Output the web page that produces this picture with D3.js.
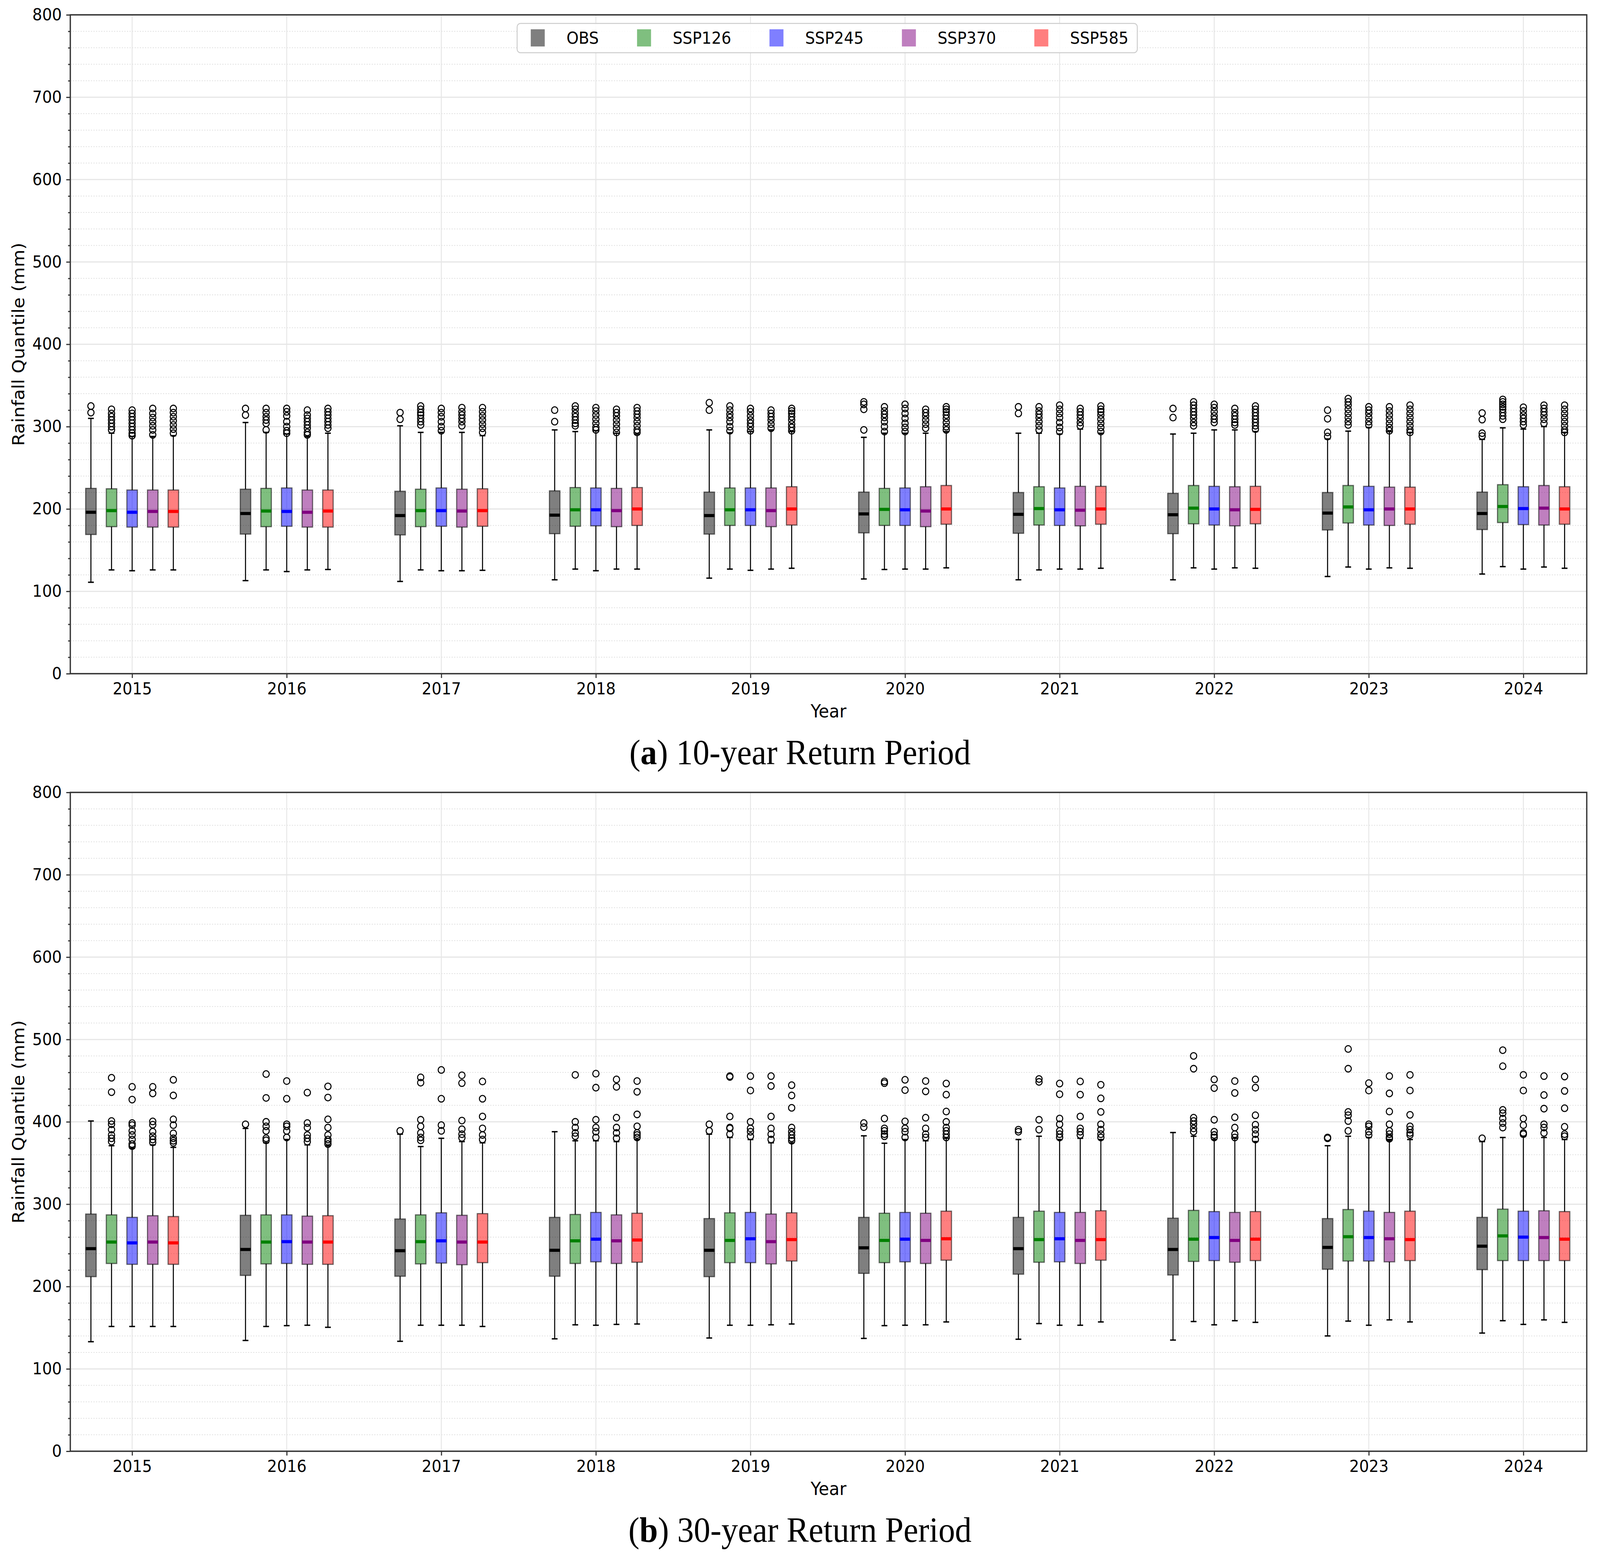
<!DOCTYPE html>
<html>
<head>
<meta charset="utf-8">
<script src="https://cdn.jsdelivr.net/npm/d3@7"></script>
<style>
  html, body { margin: 0; padding: 0; background: #fff; overflow: hidden; }
  svg { display: block; }
</style>
</head>
<body>
<div id="chart"></div>
<script>
const years = [2015, 2016, 2017, 2018, 2019, 2020, 2021, 2022, 2023, 2024];
const seriesNames = ['OBS', 'SSP126', 'SSP245', 'SSP370', 'SSP585'];
const seriesColors = ['black', 'green', 'blue', 'purple', 'red'];
const yTicks = [0, 100, 200, 300, 400, 500, 600, 700, 800];

// 10-year return period, per year: [low whisker, Q1, median, Q3, high whisker]
const rp10OBS = [[111,169,196,225,310],[113,169.5,194.5,224,305],[112,168.5,192,221.5,301],[114,170,192.5,222,296],[116,169.5,192,220.5,296],[115,171,194,220.5,287],[114,170.5,193.5,220,292],[114,170,193,219,291],[118,174.5,195,220,285],[121,175,194.5,220.5,284.5]];
const rp10SSP126 = [[126,178.5,198,224.5,292],[126,178.5,197.5,225,293],[126,178.5,198,224,293],[127,179,199,226,294],[127,180,199,225.5,292.5],[126.5,180,199.5,225,292],[126,180.5,200.5,227,292],[128.5,182,201,228.5,292],[129.5,183,202.5,228.5,294.5],[130,183.5,203,229.5,298.5]];
const rp10SSP245 = [[125,178,196,223,288],[124,179,197,225.5,291],[125,179,198,225.5,293],[125,179.5,199,225.5,295],[125.5,180,199,225.5,294],[127,180,199,225.5,292],[127,180,199,225.5,291],[127,180.5,200,227.5,296],[127,180.5,199,227.5,299],[127,181,200.5,227,297]];
const rp10SSP370 = [[126,178,197,223,288],[126,178,196,223,288],[125,178,197.5,224,293],[127,178.5,198,225,292],[127,178.5,198,225.5,296],[127,178.5,197.5,227,292],[127,179.5,198.5,227.5,297],[128.5,179.5,199,227,296],[128.5,180,200,226.5,294],[129.5,180.5,201,228.5,300]];
const rp10SSP585 = [[126,178,197,223,289],[126.5,178,197.5,223,292],[125.5,179,198,224.5,289],[127,180,200,226,291],[128,180.5,200,227,294],[128.5,181.5,200,228.5,294],[128,181.5,200,227.5,292],[128,182,199.5,227.5,294],[128,181.5,200,226.5,293],[128,181.5,200,227,293]];

// 10-year return period outliers
const rp10OBSOut = [[325,317],[322,314],[317,309],[320,306],[329,320],[330,327,321,296],[324,316],[322,311],[320,309.5,293,288],[316.5,308.5,292,288.5]];
const rp10SSP126Out = [[321,316,312,308,304,300,296],[322,317,312,308,304,296],[325,321,317,314,310,306,302],[325,321,316,312,308,304,301],[325,320,315,311,306,300,295],[324,319,315,311,306,300,294],[324,319,315,311,306,301,296],[330,326,322,318,314,310,305,301],[334,330,326,321,316,311,306,302],[333,330,327,324,321,317,313,309]];
const rp10SSP245Out = [[320,316,312,308,304,300,296,292,289],[322,318,313,306,300,295,292],[322,317,312,306,300,295],[323,319,314,309,304,299,296],[322,318,313,308,304,300,295],[327,322,316,310,304,299,294],[326,321,316,311,305,299,294],[327,323,318,313,309,305],[324,320,316,311,306,302],[323.5,319,314,310,306,302]];
const rp10SSP370Out = [[322,316,311,306,301,296,290],[320,314,310,306,302,298,293,290],[323,318,314,310,306,301],[321,317,313,308,303,298,293],[320,316,312,308,303,298],[321,317,313,308,303,298],[322,318,314,310,305,301],[322,317,313,309,305,302],[324,319,314,309,304,299,295],[326,322,318,314,309,304]];
const rp10SSP585Out = [[322,317,312,307,302,297,292],[322,318,314,310,306,302,298],[323,318,313,308,303,298,293],[323,319,315,311,306,301,296,293],[322,319,316,312,308,303,299,295],[324,321,318,314,310,305,300,296],[325,321,318,314,309,304,299,294],[325,321,317,313,309,305,301,297],[326,321,316,311,306,301,296,293],[326,321,316,311,306,301,296,293]];

// 30-year return period, per year: [low whisker, Q1, median, Q3, high whisker]
const rp30OBS = [[133,212,246,288,401],[134.5,213.5,245,286.5,392],[133.5,212.5,243.5,282,385],[136.5,212.5,244,284,388],[137.5,212,244,282.5,385],[137,216,247,284,383],[136,215,246,284,378.5],[135,214,245,283,387],[140,221,247.5,282.5,371],[143.5,220.5,249,284,376]];
const rp30SSP126 = [[151.5,228,254,287,371],[151.5,227.5,254,287,374.5],[153,227.5,254.5,287,370],[153.5,228,255.5,287.5,377],[153,229,256,289.5,381],[152.5,229,256,289,374],[155,229.5,257,291.5,382.5],[157.5,230.5,257.5,292.5,382.5],[158,231,260.5,293.5,382.5],[158.5,231.5,261.5,294,381]];
const rp30SSP245 = [[151.5,227,253,284,368],[152.5,228,254.5,287,378.5],[153,228.5,255.5,289.5,380],[153,230,257.5,290,377],[153,229,258,290,378.5],[153,230,257.5,290,378.5],[153,230,258,290,378.5],[153.5,231.5,259.5,291,378.5],[153,231,259.5,291.5,381],[154,231.5,260,291.5,382.5]];
const rp30SSP370 = [[151.5,227,254,286,372],[153,227,254,285.5,372],[153,226.5,254,286.5,376],[154,228,255.5,287,376],[153.5,227.5,254.5,288,374.5],[153.5,228,256,289,377],[153,228,256,290,380],[158.5,229.5,256,290,380],[159.5,230,258,290,378.5],[159.5,231.5,259.5,292,381]];
const rp30SSP585 = [[151.5,227,253,285,369],[150.5,227,254,286,371],[151.5,229,254,288.5,374.5],[154.5,229.5,256.5,289,378.5],[154.5,231,257,289.5,374.5],[157,232,258,291.5,380],[157,232,257,292,378.5],[156.5,231.5,257.5,291,376],[157,231.5,257,291.5,378.5],[156.5,231.5,257.5,291,378.5]];

// 30-year return period outliers
const rp30OBSOut = [[],[397],[389],[],[397,389],[398.5,393.5],[390.5,388],[],[381,380],[380]];
const rp30SSP126Out = [[453.5,436,401,397,390.5,384,380,376],[458,429,400,394.5,389,380,377.5],[454,447.5,402.5,394.5,386.5,381,377.5],[457,400,393,386.5,382.5],[455.5,454.5,406.5,393,392,385],[449,447,404,392,389,385,382.5],[452,448.5,402.5,390.5],[480,464.5,405,401,397,392,388],[488.5,464.5,412,408,401,389],[487,467.5,414.5,410.5,404,398.5,393]];
const rp30SSP245Out = [[442.5,427,398.5,396,389,384,378.5,373,370.5],[449.5,428,397,394.5,389,381],[463,428,396,389],[458.5,441.5,402.5,393,388,381],[455.5,438,400,392,388,382.5],[451,438.5,400.5,392,388,381],[446.5,433.5,404,397,389,385,381],[451.5,441,402.5,388,384,381],[447,438,397,394.5,388,384],[457,438,404,396,386.5,385]];
const rp30SSP370Out = [[442.5,434.5,400.5,396.5,388,382.5,378.5,375],[435.5,398.5,393,384,380,376],[456.5,447,401.5,391,385,380.5],[451.5,442.5,405,393,386.5,380],[455.5,443.5,406.5,392,385,378.5],[449.5,437,405,392,385,381],[449,433,406.5,392,388,384],[449.5,435,405.5,393,385,381],[455.5,434.5,412.5,397,389,385,381,379.5],[455.5,432.5,416,397,393,386.5]];
const rp30SSP585Out = [[451,432,403,396,386,380,377,374.5],[443,429.5,403,393,384,378.5,376,373],[449,428,406.5,392,384,378.5],[449.5,436.5,409,394.5,386.5,384,381],[444.5,432,417,393,388,384,380,377],[446.5,433,412.5,400,393,389,385,381],[445,428.5,412,397,390.5,385,381],[451.5,441.5,408,396.5,390.5,385,378.5],[457,438,408.5,394.5,390.5,386.5,384],[455,437.5,416.5,394,385,382.5]];

const width = 4347;
const height = 3974;
const left = 191;
const right = 4311;

const panels = [
  { letter: 'a', title: ' 10-year Return Period', top: 38, bottom: 1725, legend: true,
    stats: [rp10OBS, rp10SSP126, rp10SSP245, rp10SSP370, rp10SSP585],
    fliers: [rp10OBSOut, rp10SSP126Out, rp10SSP245Out, rp10SSP370Out, rp10SSP585Out] },
  { letter: 'b', title: ' 30-year Return Period', top: 2029, bottom: 3716, legend: false,
    stats: [rp30OBS, rp30SSP126, rp30SSP245, rp30SSP370, rp30SSP585],
    fliers: [rp30OBSOut, rp30SSP126Out, rp30SSP245Out, rp30SSP370Out, rp30SSP585Out] },
];

// scale the drawing to whatever viewport the page gets
const svg = d3.select('#chart').append('svg')
  .attr('viewBox', `0 0 ${width} ${height}`)
  .attr('preserveAspectRatio', 'none')
  .style('width', '100vw')
  .style('height', '100vh')
  .style('font-family', '"DejaVu Sans", sans-serif');

const x = d3.scaleLinear().domain([-0.4, 9.41]).range([left, right]);
const step = 0.1333;
const halfBox = (x(0.034) - x(0));
const halfCap = halfBox * 0.55;

panels.forEach((p) => {
  const y = d3.scaleLinear().domain([0, 800]).range([p.bottom, p.top]);
  const g = svg.append('g');

  // grid
  const minor = d3.range(0, 801, 20).filter((v) => v % 100 !== 0);
  g.append('g').selectAll('line').data(minor).join('line')
    .attr('x1', left).attr('x2', right)
    .attr('y1', (d) => y(d)).attr('y2', (d) => y(d))
    .attr('stroke', '#dedede').attr('stroke-width', 2).attr('stroke-dasharray', '3,4');
  g.append('g').selectAll('line').data(yTicks).join('line')
    .attr('x1', left).attr('x2', right)
    .attr('y1', (d) => y(d)).attr('y2', (d) => y(d))
    .attr('stroke', '#e6e6e6').attr('stroke-width', 3);
  g.append('g').selectAll('line').data(d3.range(years.length)).join('line')
    .attr('x1', (d) => x(d)).attr('x2', (d) => x(d))
    .attr('y1', p.top).attr('y2', p.bottom)
    .attr('stroke', '#e6e6e6').attr('stroke-width', 2.5);

  // boxes
  seriesNames.forEach((name, s) => {
    const color = seriesColors[s];
    const sg = g.append('g');
    const rows = p.stats[s].map((d, i) => ({ i, cx: x(i + (s - 2) * step), lo: d[0], q1: d[1], med: d[2], q3: d[3], hi: d[4], out: p.fliers[s][i] }));

    sg.selectAll('.wl').data(rows).join('line')
      .attr('x1', (d) => d.cx).attr('x2', (d) => d.cx)
      .attr('y1', (d) => y(d.lo)).attr('y2', (d) => y(d.q1))
      .attr('stroke', '#000').attr('stroke-width', 2.8);
    sg.selectAll('.wh').data(rows).join('line')
      .attr('x1', (d) => d.cx).attr('x2', (d) => d.cx)
      .attr('y1', (d) => y(d.q3)).attr('y2', (d) => y(d.hi))
      .attr('stroke', '#000').attr('stroke-width', 2.8);
    ['lo', 'hi'].forEach((k) => {
      sg.append('g').selectAll('line').data(rows).join('line')
        .attr('x1', (d) => d.cx - halfCap).attr('x2', (d) => d.cx + halfCap)
        .attr('y1', (d) => y(d[k])).attr('y2', (d) => y(d[k]))
        .attr('stroke', '#000').attr('stroke-width', 3.5);
    });
    sg.append('g').selectAll('rect').data(rows).join('rect')
      .attr('x', (d) => d.cx - halfBox)
      .attr('width', halfBox * 2)
      .attr('y', (d) => y(d.q3))
      .attr('height', (d) => y(d.q1) - y(d.q3))
      .attr('fill', color).attr('fill-opacity', 0.5)
      .attr('stroke', '#000').attr('stroke-opacity', 0.55).attr('stroke-width', 3);
    sg.append('g').selectAll('line').data(rows).join('line')
      .attr('x1', (d) => d.cx - halfBox).attr('x2', (d) => d.cx + halfBox)
      .attr('y1', (d) => y(d.med)).attr('y2', (d) => y(d.med))
      .attr('stroke', color).attr('stroke-width', 8);
    sg.append('g').selectAll('circle')
      .data(rows.flatMap((d) => d.out.map((v) => ({ cx: d.cx, v }))))
      .join('circle')
      .attr('cx', (d) => d.cx).attr('cy', (d) => y(d.v))
      .attr('r', 8.5)
      .attr('fill', 'none').attr('stroke', '#000').attr('stroke-width', 2.8);
  });

  // axes
  const yAxis = g.append('g').attr('transform', `translate(${left},0)`)
    .call(d3.axisLeft(y).tickValues(yTicks).tickSize(11).tickPadding(12));
  g.append('g').attr('transform', `translate(${left},0)`)
    .call(d3.axisLeft(y).tickValues(minor).tickSize(6).tickFormat(''))
    .call((a) => a.select('.domain').remove());
  const xAxis = g.append('g').attr('transform', `translate(0,${p.bottom})`)
    .call(d3.axisBottom(x).tickValues(d3.range(years.length)).tickFormat((i) => years[i]).tickSize(11).tickPadding(12));
  [yAxis, xAxis].forEach((a) => {
    a.select('.domain').remove();
    a.selectAll('text').attr('font-size', 42).attr('fill', '#000').attr('font-family', '"DejaVu Sans", sans-serif');
  });
  g.selectAll('.tick line').attr('stroke', '#333').attr('stroke-width', 3);

  g.append('rect')
    .attr('x', left).attr('y', p.top)
    .attr('width', right - left).attr('height', p.bottom - p.top)
    .attr('fill', 'none').attr('stroke', '#333').attr('stroke-width', 3.5);

  g.append('text')
    .attr('x', (left + right) / 2).attr('y', p.bottom + 112)
    .attr('text-anchor', 'middle').attr('font-size', 46)
    .text('Year');
  g.append('text')
    .attr('transform', `translate(66,${(p.top + p.bottom) / 2}) rotate(-90)`)
    .attr('text-anchor', 'middle').attr('font-size', 46)
    .text('Rainfall Quantile (mm)');

  const cap = g.append('text')
    .attr('x', width / 2).attr('y', p.bottom + 232)
    .attr('text-anchor', 'middle')
    .attr('font-family', '"Liberation Serif", serif')
    .attr('font-size', 90);
  cap.append('tspan').text('(');
  cap.append('tspan').attr('font-weight', 'bold').text(p.letter);
  cap.append('tspan').text(')' + p.title);

  if (p.legend) {
    const lg = g.append('g');
    const frame = lg.append('rect')
      .attr('x', 1405).attr('y', 60).attr('height', 75).attr('rx', 9)
      .attr('fill', '#fff').attr('fill-opacity', 0.85)
      .attr('stroke', '#cccccc').attr('stroke-width', 2.5);
    let px = 1442;
    seriesNames.forEach((name, s) => {
      lg.append('rect')
        .attr('x', px).attr('y', 75).attr('width', 38).attr('height', 44)
        .attr('fill', seriesColors[s]).attr('fill-opacity', 0.5);
      const t = lg.append('text')
        .attr('x', px + 97).attr('y', 97)
        .attr('dy', '0.35em').attr('font-size', 42)
        .text(name);
      px = px + 97 + t.node().getComputedTextLength() + 104;
    });
    frame.attr('width', px - 104 + 38 - 1405 - 14);
  }
});
</script>
</body>
</html>
